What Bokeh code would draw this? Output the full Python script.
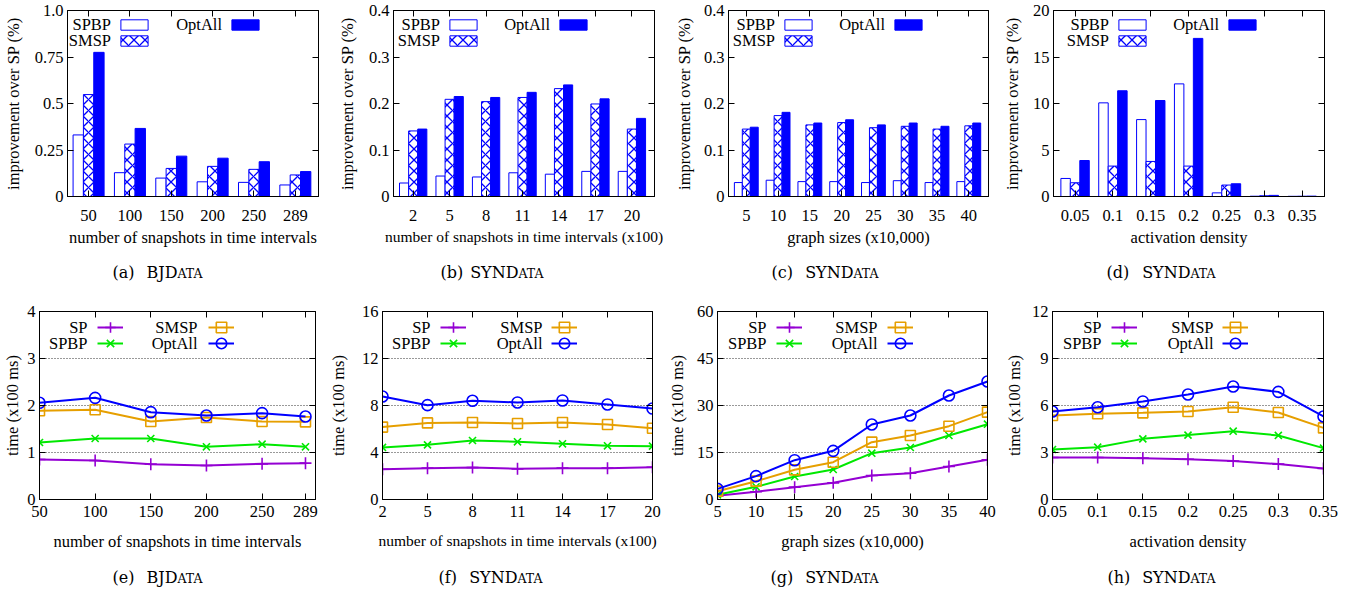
from bokeh.plotting import figure
from bokeh.models import (Range1d, FixedTicker, LinearAxis, Label, Legend,
                          LegendItem, ColumnDataSource)
from bokeh.layouts import row, column
from bokeh.transform import dodge
from bokeh.core.properties import value
from bokeh.embed import file_html
from bokeh.resources import INLINE

# ------------------------------------------------------------------ data
# (a) BJData improvement
snap_bj = ["50", "100", "150", "200", "250", "289"]
a_spbp = [0.331, 0.128, 0.099, 0.079, 0.076, 0.062]
a_smsp = [0.548, 0.282, 0.151, 0.162, 0.146, 0.116]
a_opt = [0.775, 0.366, 0.217, 0.206, 0.187, 0.134]
# (b) SynData snapshots improvement
snap_syn = ["2", "5", "8", "11", "14", "17", "20"]
b_spbp = [0.029, 0.044, 0.042, 0.051, 0.048, 0.054, 0.054]
b_smsp = [0.141, 0.209, 0.204, 0.213, 0.232, 0.199, 0.145]
b_opt = [0.145, 0.215, 0.213, 0.224, 0.240, 0.210, 0.168]
# (c) SynData graph sizes improvement
sizes = ["5", "10", "15", "20", "25", "30", "35", "40"]
c_spbp = [0.030, 0.035, 0.032, 0.032, 0.030, 0.034, 0.030, 0.032]
c_smsp = [0.145, 0.174, 0.154, 0.159, 0.148, 0.151, 0.145, 0.152]
c_opt = [0.149, 0.181, 0.158, 0.165, 0.154, 0.158, 0.151, 0.158]
# (d) SynData activation density improvement
dens = ["0.05", "0.1", "0.15", "0.2", "0.25", "0.3", "0.35"]
d_spbp = [1.94, 10.07, 8.27, 12.11, 0.39, 0.03, 0.02]
d_smsp = [1.48, 3.27, 3.77, 3.27, 1.23, 0.08, 0.03]
d_opt = [3.87, 11.37, 10.32, 17.0, 1.37, 0.12, 0.04]

# (e) BJData time
e_x = [50, 100, 150, 200, 250, 289]
e_sp = [0.851, 0.830, 0.752, 0.723, 0.759, 0.773]
e_spbp = [1.213, 1.298, 1.298, 1.121, 1.177, 1.121]
e_smsp = [1.887, 1.908, 1.660, 1.745, 1.660, 1.652]
e_opt = [2.057, 2.163, 1.858, 1.787, 1.837, 1.766]
# (f) SynData snapshots time
f_x = [2, 5, 8, 11, 14, 17, 20]
f_sp = [2.58, 2.67, 2.72, 2.61, 2.67, 2.67, 2.75]
f_spbp = [4.43, 4.65, 5.02, 4.91, 4.74, 4.57, 4.54]
f_smsp = [6.16, 6.52, 6.55, 6.47, 6.55, 6.38, 6.07]
f_opt = [8.77, 8.03, 8.40, 8.26, 8.43, 8.09, 7.74]
# (g) SynData graph sizes time
g_x = [5, 10, 15, 20, 25, 30, 35, 40]
g_sp = [1.17, 2.45, 3.94, 5.32, 7.66, 8.40, 10.53, 12.66]
g_spbp = [1.49, 4.04, 7.34, 9.57, 14.79, 16.60, 20.43, 24.04]
g_smsp = [2.66, 5.85, 9.47, 11.91, 18.30, 20.43, 23.40, 27.87]
g_opt = [3.40, 7.45, 12.55, 15.53, 23.94, 26.81, 33.19, 37.66]
# (h) SynData activation density time
h_x = [0.05, 0.1, 0.15, 0.2, 0.25, 0.3, 0.35]
h_sp = [2.68, 2.68, 2.64, 2.57, 2.45, 2.26, 1.98]
h_spbp = [3.19, 3.34, 3.87, 4.11, 4.36, 4.09, 3.28]
h_smsp = [5.36, 5.47, 5.53, 5.62, 5.89, 5.55, 4.57]
h_opt = [5.62, 5.89, 6.26, 6.70, 7.21, 6.87, 5.30]

# tick values / labels
a_yticks = [0, 0.25, 0.5, 0.75, 1.0]
a_ylabels = ["0", "0.25", "0.5", "0.75", "1.0"]
bc_yticks = [0, 0.1, 0.2, 0.3, 0.4]
bc_ylabels = ["0", "0.1", "0.2", "0.3", "0.4"]
d_yticks = [0, 5, 10, 15, 20]
e_yticks = [0, 1, 2, 3, 4]
f_yticks = [0, 4, 8, 12, 16]
g_yticks = [0, 15, 30, 45, 60]
h_yticks = [0, 3, 6, 9, 12]
h_xlabels = ["0.05", "0.1", "0.15", "0.2", "0.25", "0.3", "0.35"]

bar_names = ["SPBP", "SMSP", "OptAll"]
line_names = ["SP", "SPBP", "SMSP", "OptAll"]

# ------------------------------------------------------------------ style
FONT = "Liberation Serif"
FS = "16.5px"
CAP_FONT = "DejaVu Serif"
BLUE = "#0000ff"
C_SP, C_SPBP, C_SMSP, C_OPT = "#9400d3", "#00e800", "#e69f00", "#0000ff"


def make_fig(fw, fh, bl, br, bt, bb, xr, yr):
    p = figure(frame_width=fw, frame_height=fh, min_border_left=bl,
               min_border_right=br, min_border_top=bt, min_border_bottom=bb,
               x_range=Range1d(*xr), y_range=Range1d(*yr),
               output_backend="svg", toolbar_location=None, tools="")
    p.outline_line_color = "black"
    p.outline_line_alpha = 1.0
    p.outline_line_width = 1
    p.background_fill_color = "white"
    p.border_fill_color = "white"
    p.xgrid.visible = False
    p.ygrid.visible = False
    return p


def style_axis(ax, ticks, labels, tick_sd, lab_sd, label, lab_fs=FS):
    ax.ticker = FixedTicker(ticks=list(ticks))
    ax.major_label_overrides = dict(zip(ticks, labels))
    ax.major_tick_in = 6
    ax.major_tick_out = 0
    ax.minor_tick_in = 0
    ax.minor_tick_out = 0
    ax.major_tick_line_color = "black"
    ax.axis_line_color = "black"
    ax.major_label_standoff = tick_sd
    ax.major_label_text_font = FONT
    ax.major_label_text_font_size = FS
    ax.major_label_text_color = "black"
    ax.axis_label = label
    ax.axis_label_standoff = lab_sd
    ax.axis_label_text_font = FONT
    ax.axis_label_text_font_size = lab_fs
    ax.axis_label_text_font_style = "normal"
    ax.axis_label_text_color = "black"


def mirror(p, xticks, yticks):
    for loc, ticks in (("above", xticks), ("right", yticks)):
        ax = LinearAxis(ticker=FixedTicker(ticks=list(ticks)))
        ax.major_label_text_font_size = "0px"
        ax.major_label_text_color = None
        ax.major_label_standoff = 0
        ax.major_tick_in = 6
        ax.major_tick_out = 0
        ax.minor_tick_in = 0
        ax.minor_tick_out = 0
        ax.axis_line_color = "black"
        ax.major_tick_line_color = "black"
        p.add_layout(ax, loc)


def text_label(p, x, y, txt, align="right", font=FONT, size=FS, baseline="middle"):
    p.add_layout(Label(x=x, y=y, x_units="screen", y_units="screen", text=txt,
                       text_font=font, text_font_size=size, text_align=align,
                       text_baseline=baseline, text_color="black"))


def legend1(p, rs, x, y, gw, gh):
    lg = Legend(items=[LegendItem(label=value(" "), renderers=rs)],
                location=(x, y), orientation="vertical", glyph_width=gw,
                glyph_height=gh, spacing=0, padding=0, margin=0,
                label_standoff=0, label_width=0, label_height=0,
                label_text_font_size="1px", label_text_color=None,
                border_line_color=None, background_fill_alpha=0)
    p.add_layout(lg)


def caption_fig(w, h, fig_left, bottom_y, letter, caps, xpar, split):
    p = figure(frame_width=w, frame_height=h, min_border=0,
               x_range=Range1d(0, 1), y_range=Range1d(0, 1),
               x_axis_location=None, y_axis_location=None,
               output_backend="svg", toolbar_location=None, tools="")
    p.outline_line_color = None
    p.grid.visible = False
    p.background_fill_color = "white"
    p.border_fill_color = "white"
    text_label(p, xpar - fig_left, bottom_y, "(%s)" % letter, "left", CAP_FONT, "16px", "bottom")
    text_label(p, split - fig_left, bottom_y, caps, "right", CAP_FONT, "16px", "bottom")
    text_label(p, split - fig_left, bottom_y + 0.8, "ATA", "left", CAP_FONT, "12.5px", "bottom")
    return p


# ------------------------------------------------------------------ top row
# page coordinates (px): chart figs y 0..258, captions 258..295
TOP_FH, TOP_BT, TOP_BB = 186, 10, 62
TOP_FB = 196
TOP_ROWS = (24, 40)
top_cfg = [
    dict(cats=snap_bj, v=(a_spbp, a_smsp, a_opt), yt=a_yticks, yl=a_ylabels, yr=(0, 1.0),
         xr=(-0.51, 5.56), left=0, fl=66, bl=66, fw=251, br=13, sd=9,
         xlab="number of snapshots in time intervals", xfs=FS, samp=(119, 230),
         cap=("a", "BJD", 112, 177)),
    dict(cats=snap_syn, v=(b_spbp, b_smsp, b_opt), yt=bc_yticks, yl=bc_ylabels, yr=(0, 0.4),
         xr=(-0.54, 6.62), left=330, fl=392, bl=62, fw=261, br=13, sd=9,
         xlab="number of snapshots in time intervals (x100)", xfs="15.5px", samp=(448, 558),
         cap=("b", "SYND", 440, 518)),
    dict(cats=sizes, v=(c_spbp, c_smsp, c_opt), yt=bc_yticks, yl=bc_ylabels, yr=(0, 0.4),
         xr=(-0.56, 7.62), left=666, fl=727, bl=61, fw=260, br=5, sd=7,
         xlab="graph sizes (x10,000)", xfs=FS, samp=(783, 893),
         cap=("c", "SYND", 771, 853)),
    dict(cats=dens, v=(d_spbp, d_smsp, d_opt), yt=d_yticks, yl=[str(t) for t in d_yticks],
         yr=(0, 20), xr=(-0.57, 6.59), left=992, fl=1052, bl=60, fw=271, br=39, sd=8,
         xlab="activation density", xfs=FS, samp=(1117, 1227),
         cap=("d", "SYND", 1106, 1190)),
]

top_figs, top_caps = [], []
for c in top_cfg:
    p = make_fig(c["fw"], TOP_FH, c["bl"], c["br"], TOP_BT, TOP_BB, c["xr"], c["yr"])
    idx = list(range(len(c["cats"])))
    src = ColumnDataSource(dict(x=idx, s1=c["v"][0], s2=c["v"][1], s3=c["v"][2]))
    r1 = p.vbar(x=dodge("x", -0.25), top="s1", width=0.25, source=src,
                fill_color="white", line_color=BLUE, line_width=1)
    r2 = p.vbar(x=dodge("x", 0.0), top="s2", width=0.25, source=src,
                fill_color="white", line_color=BLUE, line_width=1,
                hatch_pattern="diagonal_cross", hatch_color=BLUE,
                hatch_scale=11, hatch_weight=1.3)
    r3 = p.vbar(x=dodge("x", 0.25), top="s3", width=0.25, source=src,
                fill_color=BLUE, line_color=BLUE, line_width=1)
    style_axis(p.xaxis[0], idx, c["cats"], 13, 4, c["xlab"], c["xfs"])
    style_axis(p.yaxis[0], c["yt"], c["yl"], 4, c["sd"], "improvement over SP (%)")
    mirror(p, idx, c["yt"])
    fl = c["fl"]
    s1, s2 = c["samp"]
    ya, yb = TOP_ROWS
    legend1(p, [r1], s1 - fl - 3.4, TOP_FB - ya - 6.5, 34, 13)
    legend1(p, [r2], s1 - fl - 3.4, TOP_FB - yb - 6.5, 34, 13)
    legend1(p, [r3], s2 - fl - 3.4, TOP_FB - ya - 6.5, 34, 13)
    text_label(p, s1 - fl - 9.5, TOP_FB - ya, bar_names[0])
    text_label(p, s1 - fl - 9.5, TOP_FB - yb, bar_names[1])
    text_label(p, s2 - fl - 9.5, TOP_FB - ya, bar_names[2])
    top_figs.append(p)
    w = c["bl"] + c["fw"] + c["br"]
    letter, caps, xpar, split = c["cap"]
    top_caps.append(caption_fig(w, 37, c["left"], 14, letter, caps, xpar, split))

# ------------------------------------------------------------------ bottom row
# page coordinates: chart figs y 295..560, captions 560..595
BOT_FH, BOT_BT, BOT_BB = 188, 16, 61
BOT_FB = 499
BOT_ROWS = (327, 343)
bot_cfg = [
    dict(x=e_x, xl=[str(v) for v in e_x], v=(e_sp, e_spbp, e_smsp, e_opt), yt=e_yticks,
         yr=(0, 4), xr=(50, 298), left=0, fl=39, bl=39, fw=276, br=7, sd=2,
         xlab="number of snapshots in time intervals", xfs=FS, samp=(97, 208), txt=(87, 197),
         cap=("e", "BJD", 112, 177)),
    dict(x=f_x, xl=[str(v) for v in f_x], v=(f_sp, f_spbp, f_smsp, f_opt), yt=f_yticks,
         yr=(0, 16), xr=(2, 20), left=322, fl=382, bl=60, fw=270, br=10, sd=11,
         xlab="number of snapshots in time intervals (x100)", xfs="15.5px",
         samp=(440, 551), txt=(430, 542),
         cap=("f", "SYND", 438, 517)),
    dict(x=g_x, xl=[str(v) for v in g_x], v=(g_sp, g_spbp, g_smsp, g_opt), yt=g_yticks,
         yr=(0, 60), xr=(5, 40), left=662, fl=717, bl=55, fw=270, br=13, sd=7,
         xlab="graph sizes (x10,000)", xfs=FS, samp=(776, 887), txt=(766, 877),
         cap=("g", "SYND", 770, 853)),
    dict(x=h_x, xl=h_xlabels, v=(h_sp, h_spbp, h_smsp, h_opt), yt=h_yticks,
         yr=(0, 12), xr=(0.05, 0.35), left=1000, fl=1052, bl=52, fw=271, br=39, sd=5,
         xlab="activation density", xfs=FS, samp=(1111, 1222), txt=(1101, 1213),
         cap=("h", "SYND", 1107, 1190)),
]

line_styles = [
    (C_SP, "cross", 12),
    (C_SPBP, "x", 10),
    (C_SMSP, "square", 10),
    (C_OPT, "circle", 11),
]

bot_figs, bot_caps = [], []
for c in bot_cfg:
    p = make_fig(c["fw"], BOT_FH, c["bl"], c["br"], BOT_BT, BOT_BB, c["xr"], c["yr"])
    p.ygrid.visible = True
    p.ygrid.ticker = FixedTicker(ticks=c["yt"][1:-1])
    p.ygrid.grid_line_color = "black"
    p.ygrid.grid_line_alpha = 0.8
    p.ygrid.grid_line_dash = "1 2"
    p.ygrid.grid_line_width = 1
    src = ColumnDataSource(dict(x=c["x"], sp=c["v"][0], spbp=c["v"][1],
                                smsp=c["v"][2], opt=c["v"][3]))
    rends = []
    for col, (color, marker, size) in zip(["sp", "spbp", "smsp", "opt"], line_styles):
        lr = p.line(x="x", y=col, source=src, line_color=color, line_width=2)
        sr = p.scatter(x="x", y=col, source=src, marker=marker, size=size,
                       line_color=color, fill_color=None, line_width=1.6)
        rends.append([lr, sr])
    style_axis(p.xaxis[0], c["x"], c["xl"], 6, 12, c["xlab"], c["xfs"])
    style_axis(p.yaxis[0], c["yt"], [str(t) for t in c["yt"]], 4, c["sd"], "time (x100 ms)")
    mirror(p, c["x"], c["yt"])
    fl = c["fl"]
    s1, s2 = c["samp"]
    t1, t2 = c["txt"]
    ya, yb = BOT_ROWS
    legend1(p, rends[0], s1 - fl, BOT_FB - ya - 13, 26, 26)
    legend1(p, rends[1], s1 - fl, BOT_FB - yb - 13, 26, 26)
    legend1(p, rends[2], s2 - fl, BOT_FB - ya - 13, 26, 26)
    legend1(p, rends[3], s2 - fl, BOT_FB - yb - 13, 26, 26)
    text_label(p, t1 - fl, BOT_FB - ya, line_names[0])
    text_label(p, t1 - fl, BOT_FB - yb, line_names[1])
    text_label(p, t2 - fl, BOT_FB - ya, line_names[2])
    text_label(p, t2 - fl, BOT_FB - yb, line_names[3])
    bot_figs.append(p)
    w = c["bl"] + c["fw"] + c["br"]
    letter, caps, xpar, split = c["cap"]
    bot_caps.append(caption_fig(w, 35, c["left"], 9, letter, caps, xpar, split))

layout = column(row(*top_figs, spacing=0), row(*top_caps, spacing=0),
                row(*bot_figs, spacing=0), row(*bot_caps, spacing=0), spacing=0)
open("out.html", "w").write(file_html(layout, INLINE))
